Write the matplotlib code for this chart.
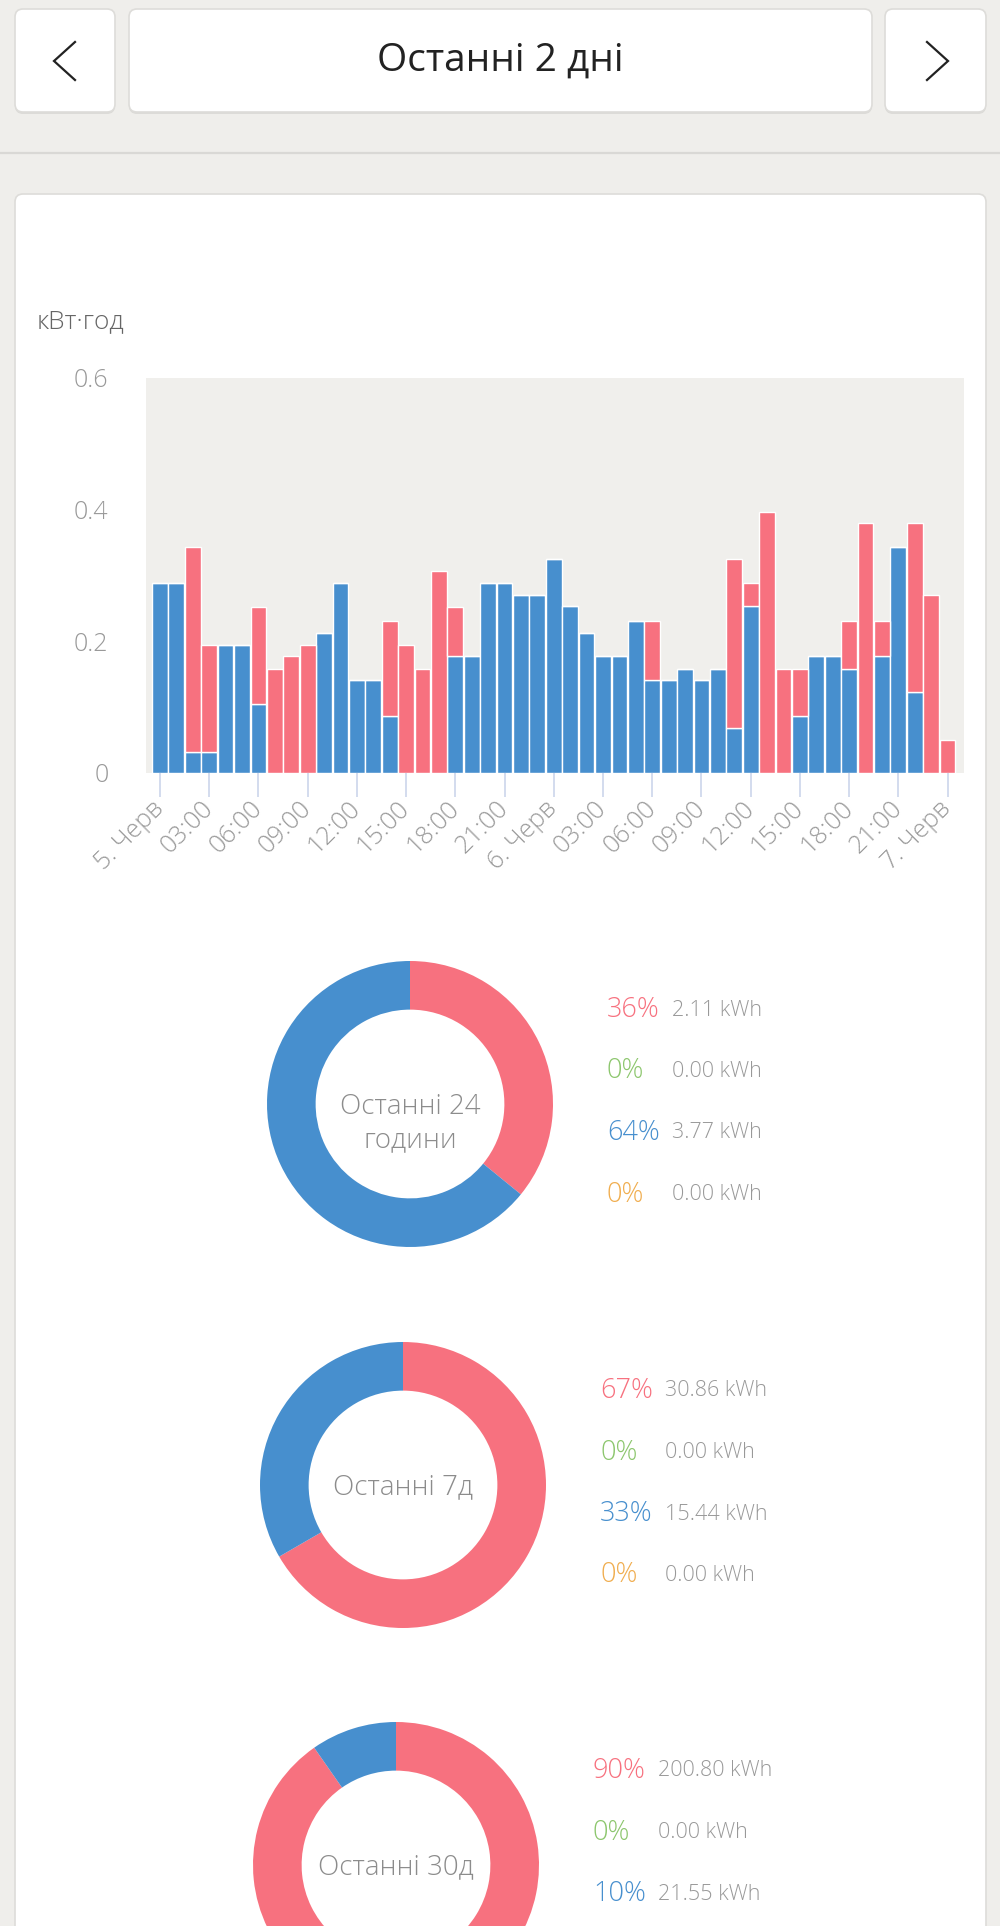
import numpy as np
import matplotlib.pyplot as plt
from matplotlib.patches import FancyBboxPatch

plt.rcParams['font.family'] = ['Open Sans', 'DejaVu Sans']
plt.rcParams['font.weight'] = 'light'

W, H = 1000, 1926

# hourly consumption, 5 Jun 00:00 .. 7 Jun 00:00 (kWh)
blue_kwh = [0.289, 0.289, 0.032, 0.032, 0.195, 0.195, 0.105, 0.0, 0.0, 0.0,
            0.213, 0.289, 0.141, 0.141, 0.087, 0.0, 0.0, 0.0, 0.177, 0.177,
            0.289, 0.289, 0.271, 0.271, 0.325, 0.253, 0.213, 0.177, 0.177, 0.231,
            0.141, 0.141, 0.158, 0.141, 0.158, 0.069, 0.253, 0.0, 0.0, 0.087,
            0.177, 0.177, 0.158, 0.0, 0.177, 0.343, 0.123, 0.0, 0.0]
red_kwh = [0.0, 0.0, 0.311, 0.163, 0.0, 0.0, 0.147, 0.158, 0.177, 0.195,
           0.0, 0.0, 0.0, 0.0, 0.144, 0.195, 0.158, 0.307, 0.075, 0.0,
           0.0, 0.0, 0.0, 0.0, 0.0, 0.0, 0.0, 0.0, 0.0, 0.0,
           0.090, 0.0, 0.0, 0.0, 0.0, 0.256, 0.036, 0.397, 0.158, 0.071,
           0.0, 0.0, 0.073, 0.379, 0.054, 0.0, 0.256, 0.271, 0.050]
hour_labels = ['5. Черв', '03:00', '06:00', '09:00', '12:00', '15:00', '18:00', '21:00',
               '6. Черв', '03:00', '06:00', '09:00', '12:00', '15:00', '18:00', '21:00',
               '7. Черв']

periods = ['Останні 24\nгодини', 'Останні 7д', 'Останні 30д']
red_tot = [2.11, 30.86, 200.80]
green_tot = [0.0, 0.0, 0.0]
blue_tot = [3.77, 15.44, 21.55]
orange_tot = [0.0, 0.0, 0.0]

RED = '#f7717f'
BLUE = '#478fce'
GREEN = '#8cc66d'
ORANGE = '#f0ad4e'
PAGE = '#efeeeb'
GREY = '#999999'

fig = plt.figure(figsize=(W / 100, H / 100), dpi=100)
fig.patch.set_facecolor(PAGE)

bg = fig.add_axes([0, 0, 1, 1])
bg.set_xlim(0, W)
bg.set_ylim(H, 0)
bg.axis('off')


def box(x0, y0, x1, y1, r=8):
    bg.add_patch(FancyBboxPatch((x0, y0 + 2), x1 - x0, y1 - y0,
                                boxstyle='round,pad=0,rounding_size=%d' % r,
                                fc='#dcdbd8', ec='none'))
    bg.add_patch(FancyBboxPatch((x0, y0), x1 - x0, y1 - y0,
                                boxstyle='round,pad=0,rounding_size=%d' % r,
                                fc='white', ec='#dddcd9', lw=1.2))


def px_axes(x0, y0, x1, y1):
    return fig.add_axes([x0 / W, 1 - y1 / H, (x1 - x0) / W, (y1 - y0) / H])


# header
box(15, 9, 115, 112)
box(129, 9, 872, 112)
box(885, 9, 986, 112)
bg.plot([75, 54, 75], [42, 61, 80], color='#222222', lw=1.6, solid_joinstyle='miter')
bg.plot([927, 948, 927], [42, 61, 80], color='#222222', lw=1.6, solid_joinstyle='miter')
bg.text(500, 61, 'Останні 2 дні', ha='center', va='center', fontsize=28,
        color='#222222', fontweight='normal')
bg.plot([0, W], [153, 153], color='#d9d8d5', lw=1.6)

# card
box(15, 194, 986, H + 40)

# bar chart
bg.text(37, 322, 'кВт·год', ha='left', va='center', fontsize=19, color='#666666')
ax = px_axes(146, 378, 964, 773)
ax.set_facecolor('#f0efec')
x = np.arange(len(blue_kwh))
ax.bar(x, blue_kwh, width=0.96, color=BLUE, edgecolor='white', linewidth=1)
ax.bar(x, red_kwh, bottom=blue_kwh, width=0.96, color=RED, edgecolor='white', linewidth=1)
ax.set_xlim(-0.85, 49.0)
ax.set_ylim(0, 0.6)
for s in ax.spines.values():
    s.set_visible(False)
ax.set_yticks([0, 0.2, 0.4, 0.6], ['0', '0.2', '0.4', '0.6'])
ax.tick_params(axis='y', length=0, pad=27, labelsize=18, labelcolor=GREY)
ax.set_xticks(x[::3], hour_labels, rotation=45, ha='right', va='center',
              rotation_mode='anchor')
ax.tick_params(axis='x', length=17, width=1.2, color='#ccd6eb', pad=6,
               labelsize=18, labelcolor=GREY)

# donuts
centers = [(410, 1104), (403, 1485), (396, 1865)]
R = 143
for i, (cx, cy) in enumerate(centers):
    vals = [red_tot[i], green_tot[i], blue_tot[i], orange_tot[i]]
    cols = [RED, GREEN, BLUE, ORANGE]
    dax = px_axes(cx - R, cy - R, cx + R, cy + R)
    dax.pie(vals, colors=cols, startangle=90, counterclock=False, radius=1,
            wedgeprops=dict(width=0.34, linewidth=0))
    dax.set_xlim(-1, 1)
    dax.set_ylim(-1, 1)
    label = periods[i]
    bg.text(cx, cy + (20 if '\n' in label else 2), label, ha='center', va='center',
            fontsize=20, color='#8c8c8c', linespacing=1.25)
    total = sum(vals)
    for j, v in enumerate(vals):
        y = cy - 94 + 61.5 * j
        if y > H - 15:
            continue
        bg.text(cx + 197, y, '%d%%' % round(100 * v / total), ha='left', va='center',
                fontsize=19.5, color=cols[j])
        bg.text(cx + 262, y, '%.2f kWh' % v, ha='left', va='center',
                fontsize=15.5, color=GREY)

fig.savefig('out.png', dpi=100, facecolor=fig.get_facecolor())
